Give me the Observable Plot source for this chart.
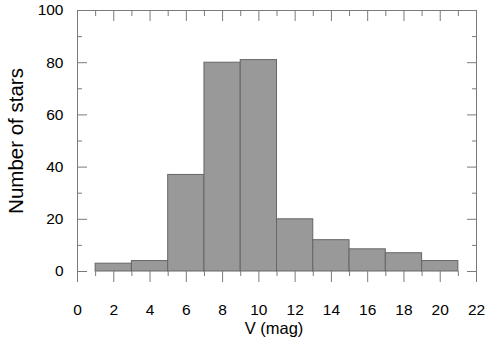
<!DOCTYPE html>
<html>
<head>
<meta charset="utf-8">
<script src="https://cdn.jsdelivr.net/npm/d3@7"></script>
<script src="https://cdn.jsdelivr.net/npm/@observablehq/plot@0.6"></script>
<style>
  html, body { margin: 0; padding: 0; background: #fff; }
  #chart svg { display: block; }
</style>
</head>
<body>
<div id="chart"></div>
<script>
// Histogram bins (V magnitude) and counts
const binStart = [1, 3, 5, 7, 9, 11, 13, 15, 17, 19];
const binEnd   = [3, 5, 7, 9, 11, 13, 15, 17, 19, 21];
const counts   = [3, 4, 37, 80, 81, 20, 12, 8.5, 7, 4];

const xDomain = [0, 22];
const yDomain = [0, 100];
const xMajor = [0, 2, 4, 6, 8, 10, 12, 14, 16, 18, 20, 22];
const xMinor = [1, 3, 5, 7, 9, 11, 13, 15, 17, 19, 21];
const yMajor = [0, 20, 40, 60, 80, 100];
const yMinor = [10, 30, 50, 70, 90];

const xLabel = "V (mag)";
const yLabel = "Number of stars";

const bins = binStart.map((s, i) => ({x1: s, x2: binEnd[i], y: counts[i]}));

const frameColor = "#7a7a7a";
const font = "'Liberation Sans', Arial, sans-serif";

const chart = Plot.plot({
  width: 485,
  height: 337,
  marginLeft: 77,
  marginRight: 9,
  marginTop: 10,
  marginBottom: 66,
  style: {fontFamily: font, fontSize: "15px", color: "#000", background: "#fff"},
  x: {domain: xDomain},
  y: {domain: yDomain},
  marks: [
    Plot.rectY(bins, {x1: "x1", x2: "x2", y: "y", fill: "#999999", stroke: "#666666", strokeWidth: 1}),
    // frame lines
    Plot.ruleX(xDomain, {stroke: frameColor, insetBottom: -11}),
    Plot.ruleY([yDomain[1]], {stroke: frameColor}),
    // left axis: labels + inward ticks
    Plot.axisY({anchor: "left", ticks: yMajor, tickSize: 0, tickPadding: 14, label: null, fontSize: 15.5}),
    Plot.axisY({anchor: "left", ticks: yMajor, tickSize: -10, fill: "none", stroke: frameColor, label: null}),
    Plot.axisY({anchor: "left", ticks: yMinor, tickSize: -5, fill: "none", stroke: frameColor, label: null}),
    // right axis inward ticks
    Plot.axisY({anchor: "right", ticks: yMajor, tickSize: -10, fill: "none", stroke: frameColor, label: null}),
    Plot.axisY({anchor: "right", ticks: yMinor, tickSize: -5, fill: "none", stroke: frameColor, label: null}),
    // top axis inward ticks
    Plot.axisX({anchor: "top", ticks: xMajor, tickSize: -10, fill: "none", stroke: frameColor, label: null}),
    Plot.axisX({anchor: "top", ticks: xMinor, tickSize: -5, fill: "none", stroke: frameColor, label: null}),
    // bottom axis: outward ticks + labels
    Plot.axisX({anchor: "bottom", ticks: xMajor, tickSize: 11, stroke: frameColor, fill: "none", label: null}),
    Plot.axisX({anchor: "bottom", ticks: xMinor, tickSize: 5, stroke: frameColor, fill: "none", label: null}),
    Plot.axisX({anchor: "bottom", ticks: xMajor, tickSize: 0, tickPadding: 32, label: null, fontSize: 15.5}),
    // axis titles
    Plot.text([xLabel], {frameAnchor: "bottom", textAnchor: "middle", dx: -3, dy: 57, lineAnchor: "middle", fontSize: 16.5, fill: "#000"}),
    Plot.text([yLabel], {frameAnchor: "left", textAnchor: "middle", dx: -61, rotate: -90, lineAnchor: "middle", fontSize: 20.5, fill: "#000"})
  ]
});
document.getElementById("chart").appendChild(chart);
</script>
</body>
</html>
